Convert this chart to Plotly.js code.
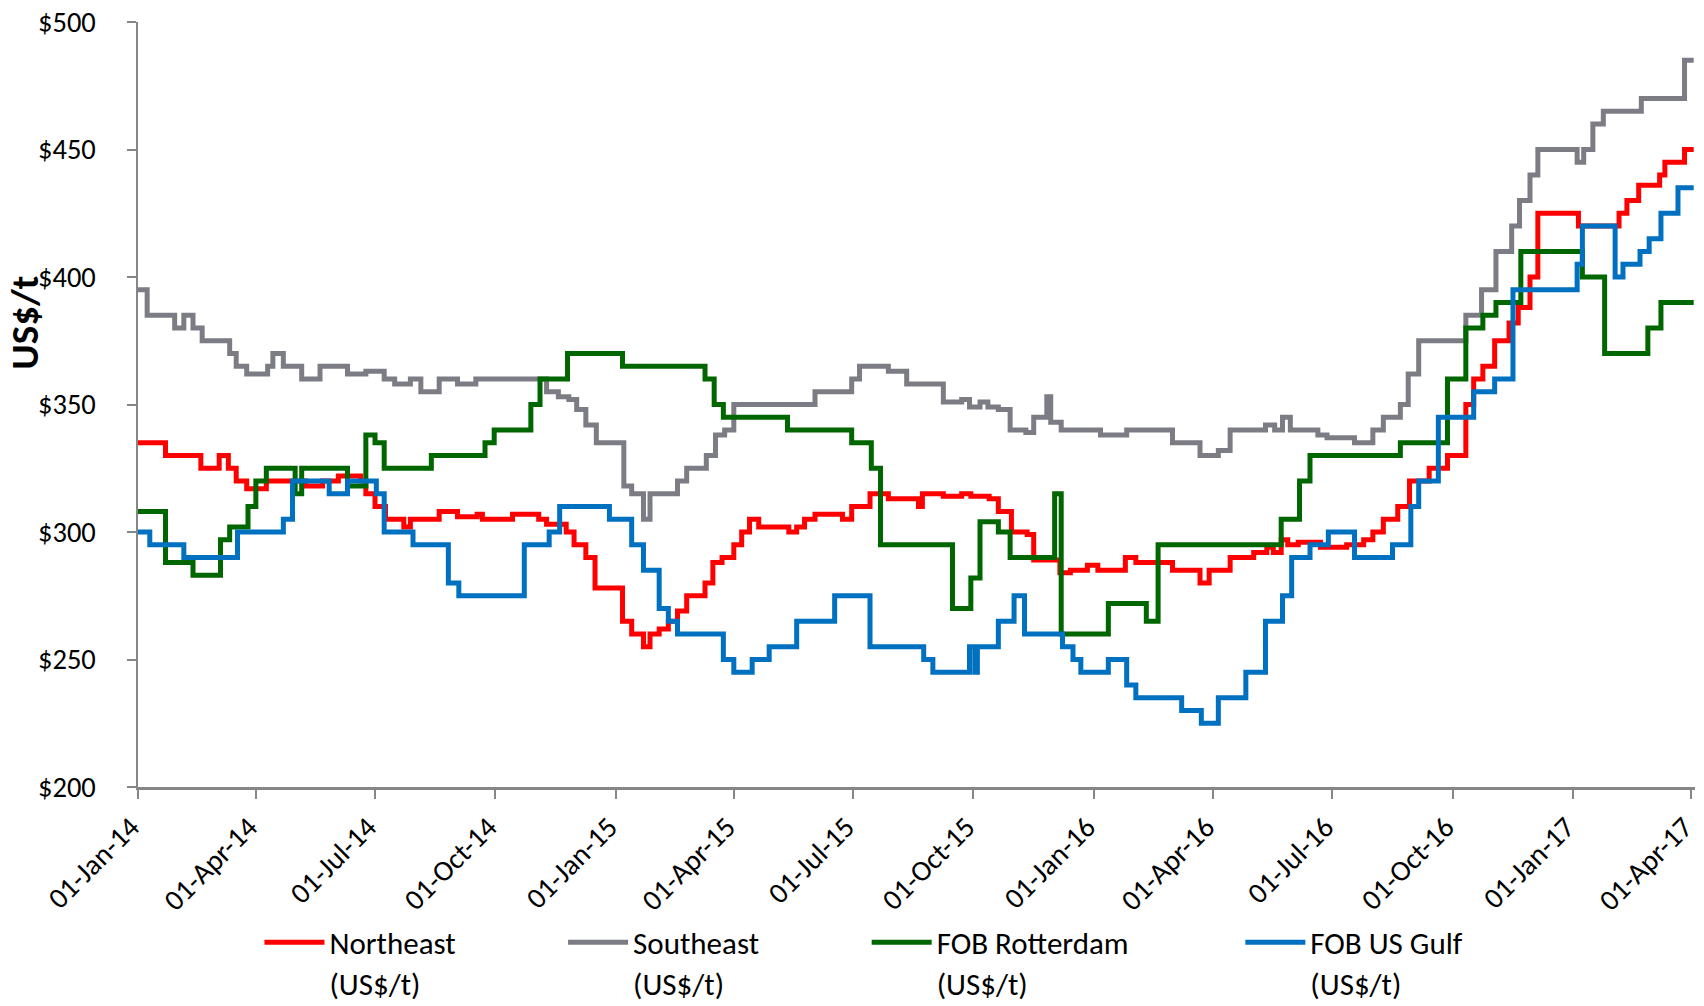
<!DOCTYPE html>
<html>
<head>
<meta charset="utf-8">
<script src="https://cdn.plot.ly/plotly-3.0.1.min.js"></script>
<style>
  html, body { margin: 0; padding: 0; background: #ffffff; }
  #chart { width: 1704px; height: 1006px; }
</style>
</head>
<body>
<div id="chart"></div>
<script>
// ---- Data (step-change points) ----
const seriesNames = ['Northeast<br>(US$/t)', 'Southeast<br>(US$/t)', 'FOB Rotterdam<br>(US$/t)', 'FOB US Gulf<br>(US$/t)'];

const neDates = ['2014-01-01','2014-01-22','2014-02-18','2014-03-04','2014-03-11','2014-03-17','2014-03-25','2014-04-09','2014-05-09','2014-05-22',
  '2014-06-03','2014-06-20','2014-06-24','2014-07-01','2014-07-09','2014-07-23','2014-07-28','2014-08-19','2014-09-02','2014-09-17',
  '2014-09-21','2014-10-14','2014-11-03','2014-11-09','2014-11-24','2014-11-30','2014-12-09','2014-12-16','2015-01-06','2015-01-13',
  '2015-01-22','2015-01-27','2015-02-03','2015-02-10','2015-02-17','2015-02-24','2015-03-10','2015-03-16','2015-03-23','2015-04-01',
  '2015-04-07','2015-04-13','2015-04-20','2015-05-13','2015-05-19','2015-05-25','2015-06-02','2015-06-23','2015-06-30','2015-07-14',
  '2015-07-28','2015-08-20','2015-08-23','2015-09-08','2015-09-22','2015-09-29','2015-10-13','2015-10-20','2015-10-30','2015-11-11',
  '2015-11-16','2015-12-06','2015-12-14','2015-12-27','2016-01-04','2016-01-25','2016-02-02','2016-03-01','2016-03-22','2016-03-29',
  '2016-04-14','2016-05-02','2016-05-12','2016-05-17','2016-05-23','2016-05-28','2016-06-05','2016-06-22','2016-07-12','2016-07-25',
  '2016-08-01','2016-08-09','2016-08-20','2016-08-29','2016-09-13','2016-09-27','2016-10-11','2016-10-17','2016-10-24','2016-11-02',
  '2016-11-13','2016-11-20','2016-11-29','2016-12-05','2017-01-05','2017-02-05','2017-02-11','2017-02-20','2017-03-08','2017-03-12',
  '2017-03-27','2017-04-03'];
const neValues = [335,330,325,330,325,320,317,320,318,320,
  322,320,315,310,305,302,305,308,306,307,
  305,307,305,303,300,295,290,278,265,260,
  255,260,262,265,269,275,280,288,290,295,
  300,305,302,300,302,305,307,305,310,315,
  313,310,315,314,315,314,313,308,300,299,
  289,284,285,287,285,290,288,285,280,285,
  290,292,294,292,297,295,296,294,295,297,
  300,305,310,320,325,330,350,360,365,375,
  382,388,400,425,420,425,430,436,440,445,
  450,450];

const seDates = ['2014-01-01','2014-01-08','2014-01-29','2014-02-05','2014-02-12','2014-02-19','2014-03-12','2014-03-17','2014-03-25','2014-04-10',
  '2014-04-14','2014-04-22','2014-05-06','2014-05-20','2014-06-10','2014-06-24','2014-07-08','2014-07-16','2014-07-28','2014-08-05',
  '2014-08-19','2014-09-02','2014-09-16','2014-11-09','2014-11-18','2014-11-26','2014-12-02','2014-12-09','2014-12-17','2015-01-07',
  '2015-01-13','2015-01-22','2015-01-27','2015-02-17','2015-02-24','2015-03-11','2015-03-18','2015-03-25','2015-04-01','2015-06-02',
  '2015-06-30','2015-07-06','2015-07-28','2015-08-11','2015-09-08','2015-09-22','2015-09-28','2015-10-06','2015-10-12','2015-10-20',
  '2015-10-29','2015-11-10','2015-11-16','2015-11-26','2015-11-29','2015-12-07','2016-01-06','2016-01-26','2016-03-01','2016-03-22',
  '2016-04-05','2016-04-14','2016-05-11','2016-05-18','2016-05-24','2016-05-30','2016-06-20','2016-06-27','2016-07-18','2016-08-01',
  '2016-08-09','2016-08-22','2016-08-28','2016-09-05','2016-10-11','2016-10-23','2016-11-03','2016-11-15','2016-11-21','2016-11-29',
  '2016-12-05','2017-01-04','2017-01-09','2017-01-16','2017-01-24','2017-02-22','2017-03-27','2017-04-03'];
const seValues = [395,385,380,385,380,375,370,365,362,365,
  370,365,360,365,362,363,360,358,360,355,
  360,358,360,355,353,352,348,342,335,318,
  315,305,315,320,325,330,338,340,350,355,
  360,365,363,358,351,352,349,351,349,348,
  340,339,345,353,343,340,338,340,335,330,
  332,340,342,340,345,340,338,337,335,340,
  345,350,362,375,385,395,410,420,430,440,
  450,445,450,460,465,470,485,485];

const rtDates = ['2014-01-01','2014-01-22','2014-02-12','2014-03-05','2014-03-12','2014-03-26','2014-04-01','2014-04-09','2014-05-01','2014-05-06',
  '2014-06-10','2014-06-24','2014-07-01','2014-07-08','2014-08-13','2014-09-23','2014-09-30','2014-10-28','2014-11-04','2014-11-25',
  '2015-01-06','2015-03-10','2015-03-17','2015-03-24','2015-05-12','2015-06-30','2015-07-15','2015-07-22','2015-09-15','2015-09-29',
  '2015-10-06','2015-10-20','2015-10-29','2015-12-02','2015-12-07','2016-01-12','2016-02-10','2016-02-19','2016-05-23','2016-06-06',
  '2016-06-14','2016-08-22','2016-09-27','2016-10-11','2016-10-24','2016-11-03','2016-11-22','2017-01-08','2017-01-25','2017-02-27',
  '2017-03-09','2017-04-03'];
const rtValues = [308,288,283,297,302,310,320,325,315,325,
  318,338,335,325,330,335,340,350,360,370,
  365,360,350,345,340,335,325,295,270,282,
  304,300,290,315,260,272,265,295,305,320,
  330,335,360,380,385,390,410,400,370,380,
  390,390];

const gfDates = ['2014-01-01','2014-01-10','2014-02-05','2014-03-18','2014-04-22','2014-04-29','2014-05-27','2014-06-10','2014-07-02','2014-07-08',
  '2014-07-30','2014-08-26','2014-09-03','2014-10-23','2014-11-11','2014-11-19','2014-12-27','2015-01-13','2015-01-22','2015-02-03',
  '2015-02-10','2015-02-17','2015-03-24','2015-04-01','2015-04-15','2015-04-28','2015-05-19','2015-06-17','2015-07-14','2015-08-24',
  '2015-08-31','2015-09-28','2015-10-02','2015-10-04','2015-10-20','2015-11-01','2015-11-09','2015-12-08','2015-12-16','2015-12-22',
  '2016-01-12','2016-01-26','2016-02-02','2016-03-08','2016-03-23','2016-04-05','2016-04-26','2016-05-11','2016-05-24','2016-05-31',
  '2016-06-14','2016-06-28','2016-07-18','2016-08-16','2016-08-30','2016-09-05','2016-09-20','2016-10-17','2016-11-02','2016-11-16',
  '2017-01-04','2017-01-08','2017-02-02','2017-02-08','2017-02-21','2017-02-28','2017-03-09','2017-03-22','2017-04-03'];
const gfValues = [300,295,290,300,305,320,315,320,315,300,
  295,280,275,295,300,310,305,295,285,270,
  265,260,250,245,250,255,265,275,255,250,
  245,255,245,255,265,275,260,255,250,245,
  250,240,235,230,225,235,245,265,275,290,
  295,300,290,295,310,320,345,355,360,395,
  405,420,400,405,410,415,425,435,435];

const xTickVals = ['2014-01-01','2014-04-01','2014-07-01','2014-10-01','2015-01-01','2015-04-01','2015-07-01','2015-10-01',
  '2016-01-01','2016-04-01','2016-07-01','2016-10-01','2017-01-01','2017-04-01'];
const yTickVals = [200, 250, 300, 350, 400, 450, 500];
const yTickText = ['$200', '$250', '$300', '$350', '$400', '$450', '$500'];

// ---- Styles ----
const FONT = 'Carlito, Calibri, Lato, "Open Sans", sans-serif';
const colors = ['#FF0000', '#7C7C84', '#006600', '#0070C0'];
const seriesX = [neDates, seDates, rtDates, gfDates];
const seriesY = [neValues, seValues, rtValues, gfValues];
const legendIds = ['legend', 'legend2', 'legend3', 'legend4'];
const legendX = [0.078, 0.273, 0.468, 0.708];

const traces = seriesX.map((xs, i) => ({
  type: 'scatter',
  mode: 'lines',
  x: xs,
  y: seriesY[i],
  name: seriesNames[i],
  legend: legendIds[i],
  line: { color: colors[i], width: 5, shape: 'hv' },
  hoverinfo: 'x+y+name'
}));

const layout = {
  width: 1704,
  height: 1006,
  margin: { l: 138, r: 9, t: 22, b: 219, autoexpand: false },
  paper_bgcolor: '#ffffff',
  plot_bgcolor: '#ffffff',
  font: { family: FONT, size: 30, color: '#000000' },
  xaxis: {
    type: 'date',
    range: ['2014-01-01', '2017-04-04'],
    automargin: false,
    tickmode: 'array',
    tickvals: xTickVals,
    tickformat: '%d-%b-%y',
    tickangle: -45,
    ticks: 'outside',
    ticklen: 9,
    tickwidth: 2,
    tickcolor: '#868686',
    showline: true,
    linecolor: '#868686',
    linewidth: 2.5,
    showgrid: false,
    zeroline: false,
    ticklabelshift: -7,
    ticklabeloverflow: 'allow',
    tickfont: { family: FONT, size: 29, color: '#000000' }
  },
  yaxis: {
    range: [200, 500],
    automargin: false,
    tickmode: 'array',
    tickvals: yTickVals,
    ticktext: yTickText,
    ticks: 'outside',
    ticklen: 9,
    tickwidth: 2,
    tickcolor: '#868686',
    showline: true,
    linecolor: '#868686',
    linewidth: 2.5,
    showgrid: false,
    zeroline: false,
    ticklabelstandoff: 25,
    ticklabeloverflow: 'allow',
    tickfont: { family: FONT, size: 28.5, color: '#000000' }
  },
  annotations: [{
    text: '<b>US$/t</b>',
    xref: 'paper', yref: 'paper',
    x: -0.0725, y: 0.607,
    xanchor: 'center', yanchor: 'middle',
    textangle: -90,
    showarrow: false,
    font: { family: FONT, size: 39, color: '#000000' }
  }],
  showlegend: true
};

legendIds.forEach((id, i) => {
  layout[id] = {
    x: legendX[i],
    xanchor: 'left',
    y: -0.168,
    yanchor: 'top',
    orientation: 'v',
    valign: 'top',
    bgcolor: 'rgba(0,0,0,0)',
    borderwidth: 0,
    itemwidth: 60,
    font: { family: FONT, size: 31, color: '#000000' }
  };
});

Plotly.newPlot('chart', traces, layout, { displayModeBar: false, staticPlot: true });
</script>
</body>
</html>
